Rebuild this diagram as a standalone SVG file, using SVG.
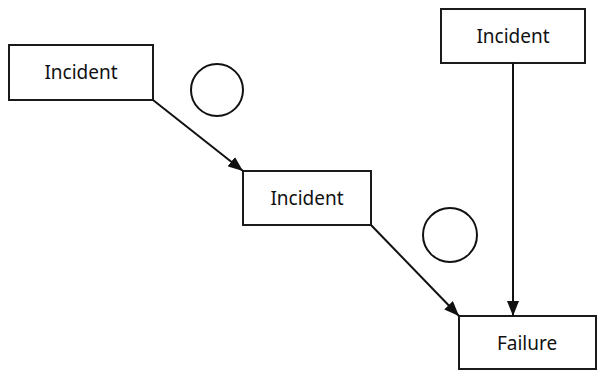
<svg xmlns="http://www.w3.org/2000/svg" width="597" height="370" viewBox="0 0 597 370">
<style>
.box{fill:#fff;stroke:#1a1a1a;stroke-width:2}
.lbl{font-family:"Noto Sans","Open Sans",sans-serif;font-size:19px;fill:#111;text-anchor:middle}
.ln{stroke:#111;stroke-width:2;fill:none}
.circ{fill:none;stroke:#111;stroke-width:2}
</style>
<defs>
<marker id="arr" viewBox="0 0 15 12" refX="15" refY="6" markerWidth="15" markerHeight="12" markerUnits="userSpaceOnUse" orient="auto">
<path d="M0,0 L15,6 L0,12 z" fill="#111"/>
</marker>
</defs>
<g id="n1"><rect class="box" x="9" y="45" width="144" height="55"/><text class="lbl" x="81" y="79">Incident</text></g>
<g id="n2"><rect class="box" x="243" y="171" width="128" height="54"/><text class="lbl" x="307" y="205">Incident</text></g>
<g id="n3"><rect class="box" x="441" y="9" width="144" height="54"/><text class="lbl" x="513" y="43">Incident</text></g>
<g id="n4"><rect class="box" x="459" y="316" width="137" height="53"/><text class="lbl" x="527" y="350">Failure</text></g>
<g id="c1"><circle class="circ" cx="217" cy="90" r="26"/></g>
<g id="c2"><circle class="circ" cx="450" cy="235" r="27"/></g>
<g id="edges">
<line class="ln" x1="153" y1="100" x2="243" y2="171" marker-end="url(#arr)"/>
<line class="ln" x1="371" y1="225" x2="459" y2="316" marker-end="url(#arr)"/>
<line class="ln" x1="513" y1="63" x2="513" y2="316" marker-end="url(#arr)"/>
</g>
</svg>
